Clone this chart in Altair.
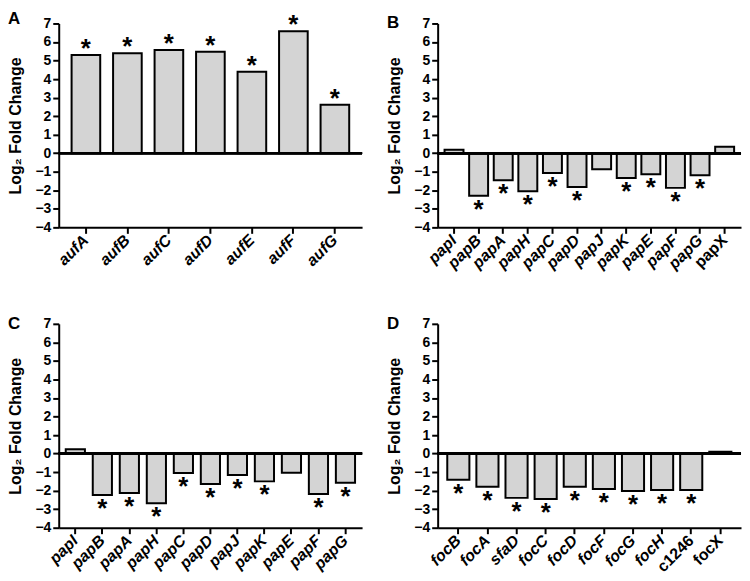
import altair as alt
import pandas as pd

# ---- data ----
genes_a = ["aufA", "aufB", "aufC", "aufD", "aufE", "aufF", "aufG"]
vals_a = [5.30, 5.39, 5.57, 5.48, 4.39, 6.58, 2.62]
sig_a = [1, 1, 1, 1, 1, 1, 1]

genes_b = ["papI", "papB", "papA", "papH", "papC", "papD", "papJ", "papK", "papE", "papF", "papG", "papX"]
vals_b = [0.19, -2.30, -1.46, -2.05, -1.07, -1.82, -0.87, -1.34, -1.14, -1.87, -1.19, 0.35]
sig_b = [0, 1, 1, 1, 1, 1, 0, 1, 1, 1, 1, 0]

genes_c = ["papI", "papB", "papA", "papH", "papC", "papD", "papJ", "papK", "papE", "papF", "papG"]
vals_c = [0.23, -2.23, -2.13, -2.68, -1.05, -1.64, -1.16, -1.50, -1.04, -2.18, -1.57]
sig_c = [0, 1, 1, 1, 1, 1, 1, 1, 0, 1, 1]

genes_d = ["focB", "focA", "sfaD", "focC", "focD", "focF", "focG", "focH", "c1246", "focX"]
vals_d = [-1.41, -1.79, -2.39, -2.45, -1.79, -1.91, -2.02, -1.96, -1.96, 0.10]
sig_d = [1, 1, 1, 1, 1, 1, 1, 1, 1, 0]

upright = ["papX", "c1246", "focX"]
y_ticks = [-4, -3, -2, -1, 0, 1, 2, 3, 4, 5, 6, 7]

FONT = "Liberation Sans"
W = 305
H = 205


def panel(letter, genes, vals, sig, pin, pout):
    df = pd.DataFrame({"gene": genes, "val": vals, "sig": sig})
    cond = " || ".join([f"datum.value == '{g}'" for g in upright])
    x = alt.X(
        "gene:N",
        sort=genes,
        title=None,
        scale=alt.Scale(paddingInner=pin, paddingOuter=pout),
        axis=alt.Axis(
            labelAngle=-45,
            labelAlign="right",
            labelBaseline="middle",
            labelFontStyle={"condition": {"test": cond, "value": "normal"}, "value": "italic"},
        ),
    )
    yscale = alt.Scale(domain=[-4, 7], nice=False, zero=False)
    yaxis = alt.Axis(values=y_ticks, tickCount=12, format="d", labelOverlap=False)
    y = alt.Y("val:Q", title="Log₂ Fold Change", scale=yscale, axis=yaxis)
    base = alt.Chart(df)
    bars = base.mark_bar(fill="#d4d4d4", stroke="black", strokeWidth=2).encode(x=x, y=y, y2=alt.datum(0))
    zero = base.mark_rule(color="black", strokeWidth=2).encode(
        y=alt.YDatum(0, title="Log₂ Fold Change", scale=yscale, axis=yaxis)
    )
    star_pos = base.transform_filter("datum.sig == 1 && datum.val > 0").mark_text(
        text="*", font=FONT, fontSize=26, fontWeight="bold", baseline="alphabetic", dy=2, color="black"
    ).encode(x=x, y=y)
    star_neg = base.transform_filter("datum.sig == 1 && datum.val < 0").mark_text(
        text="*", font=FONT, fontSize=26, fontWeight="bold", baseline="alphabetic", dy=22, color="black"
    ).encode(x=x, y=y)
    return alt.layer(bars, zero, star_pos, star_neg).properties(
        width=W,
        height=H,
        title=alt.TitleParams(letter, anchor="start", frame="bounds", fontSize=17, fontWeight="bold", font=FONT, color="black", offset=-16),
    )


pa = panel("A", genes_a, vals_a, sig_a, 0.31, 0.31)
pb = panel("B", genes_b, vals_b, sig_b, 0.23, 0.28)
pc = panel("C", genes_c, vals_c, sig_c, 0.29, 0.26)
pd_ = panel("D", genes_d, vals_d, sig_d, 0.24, 0.33)

chart = alt.vconcat(
    alt.hconcat(pa, pb, spacing=24),
    alt.hconcat(pc, pd_, spacing=24),
    spacing=43,
).properties(padding=0).configure_view(stroke=None).configure_axis(
    domainColor="black",
    domainWidth=2,
    tickColor="black",
    tickWidth=2,
    tickSize=6,
    grid=False,
    labelColor="black",
    labelFont=FONT,
    labelFontWeight="bold",
    titleFont=FONT,
    titleFontWeight="bold",
    titleColor="black",
).configure_axisY(
    labelFontSize=14,
    labelPadding=2,
    titleFontSize=16,
    titlePadding=11,
    labelOverlap=False,
).configure_axisX(
    labelFontSize=16,
    labelPadding=4,
)

chart.save("out.html", embed_options={"renderer": "svg", "actions": False})
